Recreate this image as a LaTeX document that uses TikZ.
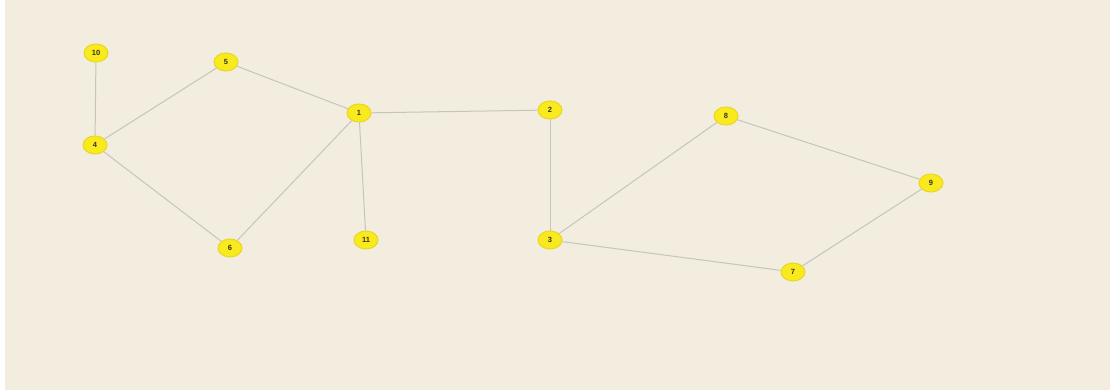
\documentclass[tikz,border=0pt]{standalone}
\usepackage{fontspec}
\setmainfont{Liberation Sans}
\usetikzlibrary{shapes.geometric}
\definecolor{bgcream}{HTML}{F2EDDE}
\definecolor{nodefill}{HTML}{F8EA1E}
\definecolor{noderim}{HTML}{E8D820}
\definecolor{edgegray}{HTML}{C3C6BE}
\definecolor{labeltext}{HTML}{3A3410}
\tikzset{
  x=1pt, y=-1pt,
  vertex/.style={ellipse, fill=nodefill, draw=noderim, line width=1pt,
    minimum width=24pt, minimum height=18pt, inner sep=0pt,
    font=\fontsize{7.5}{8}\selectfont\bfseries, text=labeltext},
  link/.style={draw=edgegray, line width=1pt}
}
\begin{document}
\begin{tikzpicture}
  \fill[white] (0,0) rectangle (1110,390);
  \fill[bgcream] (5,0) rectangle (1110,390);
  \useasboundingbox (0,0) rectangle (1110,390);
  % vertices
  \node[vertex] (n10) at (96,53) {10};
  \node[vertex] (n5)  at (226,62) {5};
  \node[vertex] (n1)  at (359,113) {1};
  \node[vertex] (n2)  at (550,110) {2};
  \node[vertex] (n4)  at (95,145) {4};
  \node[vertex] (n6)  at (230,248) {6};
  \node[vertex] (n11) at (366,240) {11};
  \node[vertex] (n3)  at (550,240) {3};
  \node[vertex] (n8)  at (726,116) {8};
  \node[vertex] (n9)  at (931,183) {9};
  \node[vertex] (n7)  at (793,272) {7};
  % edges
  \path[link] (n10) -- (n4);
  \path[link] (n4) -- (n5);
  \path[link] (n5) -- (n1);
  \path[link] (n4) -- (n6);
  \path[link] (n6) -- (n1);
  \path[link] (n1) -- (n11);
  \path[link] (n1) -- (n2);
  \path[link] (n2) -- (n3);
  \path[link] (n3) -- (n8);
  \path[link] (n8) -- (n9);
  \path[link] (n9) -- (n7);
  \path[link] (n7) -- (n3);
\end{tikzpicture}
\end{document}
